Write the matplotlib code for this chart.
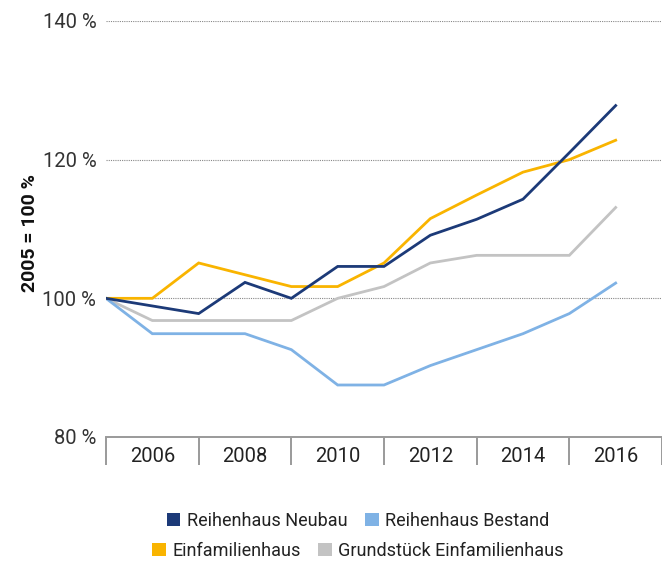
import matplotlib
matplotlib.use("Agg")
import matplotlib.pyplot as plt
from matplotlib.patches import Patch

plt.rcParams['font.family'] = ['Roboto', 'DejaVu Sans']

# Werte (2005 = 100 %)
jahre = list(range(2005, 2017))
neubau = [100, 98.9, 97.8, 102.3, 100.0, 104.6, 104.6, 109.1, 111.4, 114.3, 121.0, 127.8]
bestand = [100, 94.9, 94.9, 94.9, 92.6, 87.5, 87.5, 90.3, 92.6, 94.9, 97.8, 102.2]
einfam = [100, 100, 105.1, 103.4, 101.7, 101.7, 105.1, 111.5, 114.9, 118.2, 120.0, 122.8]
grund = [100, 96.8, 96.8, 96.8, 96.8, 100.0, 101.7, 105.1, 106.2, 106.2, 106.2, 113.1]

namen = ["Reihenhaus Neubau", "Reihenhaus Bestand", "Einfamilienhaus", "Grundstück Einfamilienhaus"]
farben = ["#1c3a78", "#7fb2e5", "#f9b400", "#c3c3c3"]

y_ticks = [80, 100, 120, 140]
x_labels = [2006, 2008, 2010, 2012, 2014, 2016]
x_trenner = [2005, 2007, 2009, 2011, 2013, 2015, 2017]

fig = plt.figure(figsize=(6.62, 5.67), dpi=100)
ax = fig.add_axes([106 / 662, 1 - 437 / 567, 1 - 106 / 662, (437 - 21) / 567])

# Reihenfolge wie im Original: grau unten, dann gelb, hellblau, dunkelblau oben
for werte, farbe in [(grund, farben[3]), (bestand, farben[1]), (einfam, farben[2]), (neubau, farben[0])]:
    ax.plot(jahre, werte, color=farbe, lw=2.0, solid_joinstyle="miter", zorder=3)

ax.set_xlim(2005, 2017)
ax.set_ylim(80, 140)

ax.set_yticks(y_ticks)
ax.set_yticklabels(["%d %%" % v for v in y_ticks], fontsize=14.5, color="#333333")
ax.tick_params(axis="y", length=0, pad=7)
ax.yaxis.grid(True, linestyle=(0, (1, 1)), color="#888888", lw=0.8)

ax.set_xticks(x_trenner)
ax.set_xticklabels([])
ax.tick_params(axis="x", which="major", length=20, width=1.4, color="#9a9a9a", direction="out")
ax.set_xticks(x_labels, minor=True)
ax.set_xticklabels([str(j) for j in x_labels], minor=True, fontsize=14.5, color="#222222")
ax.tick_params(axis="x", which="minor", length=0, pad=7)

for s in ["top", "right", "left"]:
    ax.spines[s].set_visible(False)
ax.spines["bottom"].set_color("#9a9a9a")
ax.spines["bottom"].set_linewidth(1.4)

fig.text(30 / 662, 1 - 233 / 567, "2005 = 100 %", rotation=90, ha="center", va="center",
         fontsize=14, fontweight="bold", color="#111111")

# Legende in zwei Zeilen
zeilen = [(0, 1, 521), (2, 3, 551)]
for a, b, y in zeilen:
    h = [Patch(facecolor=farben[a], edgecolor="none"), Patch(facecolor=farben[b], edgecolor="none")]
    leg = fig.legend(h, [namen[a], namen[b]], ncol=2, loc="center",
                     bbox_to_anchor=(358 / 662, 1 - y / 567), frameon=False,
                     prop={"size": 13}, handlelength=0.75, handleheight=0.75,
                     handletextpad=0.35, columnspacing=1.0, borderpad=0)
    for t in leg.get_texts():
        t.set_color("#222222")

fig.savefig("out.png", dpi=100)
